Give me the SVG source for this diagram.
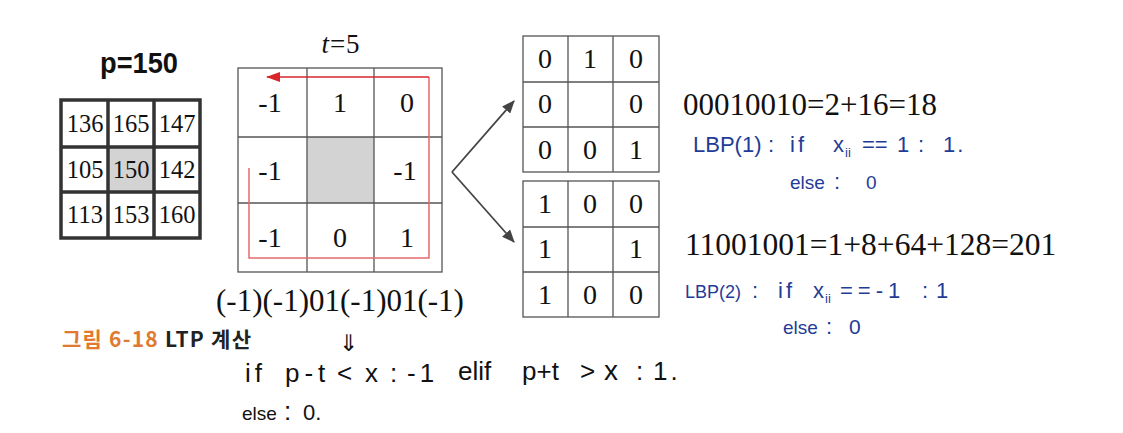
<svg xmlns="http://www.w3.org/2000/svg" width="1123" height="433" viewBox="0 0 1123 433">
<style>
.tn{font-family:"Liberation Serif","Times New Roman",serif;fill:#111;text-anchor:middle}
.g1{font-size:24.5px}
.g2{font-size:28px}
.thick{fill:none;stroke:#333;stroke-width:3.5}
.thin{fill:none;stroke:#555;stroke-width:1.3}
.hw{font-family:"Liberation Sans",Arial,sans-serif;font-size:22px}
.blue{fill:#1f3c96}
.blk{fill:#111;font-size:26px}
.sub{font-size:13px}
</style>
<defs>
<marker id="ah" viewBox="0 0 12 10" refX="11" refY="5" markerWidth="13" markerHeight="11" markerUnits="userSpaceOnUse" orient="auto">
<path d="M0,0 L12,5 L0,10 Z" fill="#444"/>
</marker>
<marker id="ahr" viewBox="0 0 14 10" refX="13" refY="5" markerWidth="14" markerHeight="10" markerUnits="userSpaceOnUse" orient="auto">
<path d="M0,0 L14,5 L0,10 Z" fill="#d9262b"/>
</marker>
</defs>
<rect width="1123" height="433" fill="#fff"/>

<g id="pixel-grid">
<text x="139" y="73" style="font-family:'Liberation Sans',sans-serif;font-size:30px;font-weight:bold;text-anchor:middle;fill:#111" textLength="78" lengthAdjust="spacingAndGlyphs">p=150</text>
<rect x="108" y="147" width="46" height="45" fill="#d3d3d3"/>
<rect x="61" y="100" width="139" height="138" class="thick"/>
<path d="M108,100V238M154,100V238M61,147H200M61,192H200" class="thick"/>
<text class="tn g1" x="85" y="132">136</text>
<text class="tn g1" x="131" y="132">165</text>
<text class="tn g1" x="177" y="132">147</text>
<text class="tn g1" x="85" y="178">105</text>
<text class="tn g1" x="131" y="178">150</text>
<text class="tn g1" x="177" y="178">142</text>
<text class="tn g1" x="85" y="223">113</text>
<text class="tn g1" x="131" y="223">153</text>
<text class="tn g1" x="177" y="223">160</text>
</g>

<g id="ternary-grid">
<text x="341" y="53" class="tn" style="font-size:27px;letter-spacing:1px"><tspan font-style="italic">t</tspan>=5</text>
<rect x="307" y="137" width="67" height="66" fill="#d3d3d3"/>
<rect x="238" y="68" width="204" height="204" class="thin"/>
<path d="M307,68V272M374,68V272M238,137H442M238,203H442" class="thin"/>
<text class="tn g2" x="270" y="112">-1</text>
<text class="tn g2" x="340" y="112">1</text>
<text class="tn g2" x="407" y="112">0</text>
<text class="tn g2" x="270" y="180">-1</text>
<text class="tn g2" x="405" y="180">-1</text>
<text class="tn g2" x="270" y="247">-1</text>
<text class="tn g2" x="340" y="247">0</text>
<text class="tn g2" x="407" y="247">1</text>
<path d="M249,168V258H429V77" fill="none" stroke="#e36a6a" stroke-width="1.5"/>
<path d="M429,77H267" fill="none" stroke="#d9262b" stroke-width="1.5" marker-end="url(#ahr)"/>
<text class="tn" x="340" y="311" style="font-size:31px">(-1)(-1)01(-1)01(-1)</text>
</g>

<g id="connectors">
<path d="M452,172L514,101" fill="none" stroke="#444" stroke-width="1.8" marker-end="url(#ah)"/>
<path d="M452,172L514,242" fill="none" stroke="#444" stroke-width="1.8" marker-end="url(#ah)"/>
</g>

<g id="upper-grid">
<rect x="523" y="36" width="136" height="136" class="thin"/>
<path d="M568,36V172M613,36V172M523,82H659M523,127H659" class="thin"/>
<text class="tn g2" x="545" y="68">0</text>
<text class="tn g2" x="590" y="68">1</text>
<text class="tn g2" x="636" y="68">0</text>
<text class="tn g2" x="545" y="113">0</text>
<text class="tn g2" x="636" y="113">0</text>
<text class="tn g2" x="545" y="159">0</text>
<text class="tn g2" x="590" y="159">0</text>
<text class="tn g2" x="636" y="159">1</text>
</g>

<g id="lower-grid">
<rect x="523" y="181" width="136" height="136" class="thin"/>
<path d="M568,181V317M613,181V317M523,227H659M523,272H659" class="thin"/>
<text class="tn g2" x="545" y="213">1</text>
<text class="tn g2" x="590" y="213">0</text>
<text class="tn g2" x="636" y="213">0</text>
<text class="tn g2" x="545" y="258">1</text>
<text class="tn g2" x="636" y="258">1</text>
<text class="tn g2" x="545" y="304">1</text>
<text class="tn g2" x="590" y="304">0</text>
<text class="tn g2" x="636" y="304">0</text>
</g>

<g id="upper-result">
<text x="683" y="115" style="font-family:'Liberation Serif',serif;font-size:31px;fill:#111">00010010=2+16=18</text>
<text class="hw blue" x="693" y="152">LBP(1)</text>
<text class="hw blue" x="768" y="152">:</text>
<text class="hw blue" x="790" y="152" style="letter-spacing:3px">if</text>
<text class="hw blue" x="833" y="152">x</text>
<text class="hw blue sub" x="845" y="157">ii</text>
<text class="hw blue" x="862" y="152">==</text>
<text class="hw blue" x="897" y="152">1</text>
<text class="hw blue" x="918" y="152">:</text>
<text class="hw blue" x="943" y="152" style="letter-spacing:2px">1.</text>
<text class="hw blue" x="790" y="189" style="font-size:19px">else</text>
<text class="hw blue" x="834" y="189">:</text>
<text class="hw blue" x="866" y="189" style="font-size:19px">0</text>
</g>

<g id="lower-result">
<text x="685" y="255" style="font-family:'Liberation Serif',serif;font-size:31.5px;fill:#111">11001001=1+8+64+128=201</text>
<text class="hw blue" x="685" y="298" style="font-size:18px">LBP(2)</text>
<text class="hw blue" x="752" y="298">:</text>
<text class="hw blue" x="778" y="298" style="letter-spacing:3px">if</text>
<text class="hw blue" x="813" y="298">x</text>
<text class="hw blue sub" x="825" y="303">ii</text>
<text class="hw blue" x="840" y="298" style="letter-spacing:5px">==-1</text>
<text class="hw blue" x="922" y="298">:</text>
<text class="hw blue" x="936" y="298">1</text>
<text class="hw blue" x="783" y="334" style="font-size:19px">else</text>
<text class="hw blue" x="826" y="334">:</text>
<text class="hw blue" x="849" y="334" style="font-size:21px">0</text>
</g>

<g id="caption">
<text x="62" y="347" style="font-family:'Noto Sans CJK KR','Noto Sans',sans-serif;font-size:21px;font-weight:bold" textLength="189" lengthAdjust="spacing"><tspan fill="#e07a30">그림 6-18 </tspan><tspan fill="#222">LTP 계산</tspan></text>
</g>

<g id="rule-note">
<text class="hw blk" x="348" y="351" style="text-anchor:middle;font-size:23px">⇓</text>
<text class="hw blk" x="245" y="382" style="letter-spacing:4px">if</text>
<text class="hw blk" x="285" y="382" style="letter-spacing:5px">p-t</text>
<text class="hw blk" x="337" y="382">&lt;</text>
<text class="hw blk" x="365" y="382">x</text>
<text class="hw blk" x="390" y="382">:</text>
<text class="hw blk" x="407" y="382" style="letter-spacing:4px">-1</text>
<text class="hw blk" x="458" y="380">elif</text>
<text class="hw blk" x="522" y="380">p+t</text>
<text class="hw blk" x="580" y="380">&gt;</text>
<text class="hw blk" x="604" y="380" style="font-size:28px">x</text>
<text class="hw blk" x="636" y="380">:</text>
<text class="hw blk" x="653" y="380" style="letter-spacing:3px">1.</text>
<text class="hw blk" x="242" y="420" style="font-size:19px">else</text>
<text class="hw blk" x="284" y="420">:</text>
<text class="hw blk" x="303" y="420" style="font-size:22px">0.</text>
</g>
</svg>
